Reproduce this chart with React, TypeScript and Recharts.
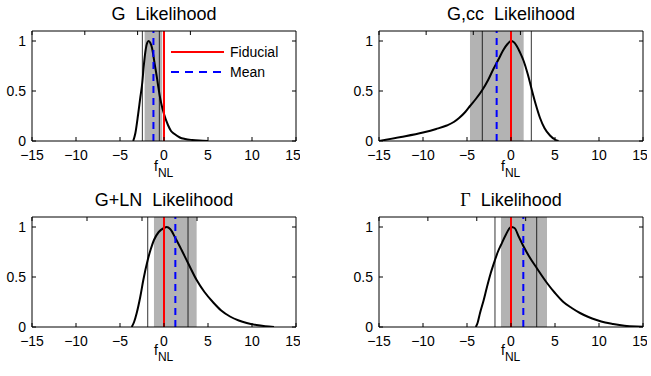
import { Line, LineChart, ReferenceArea, ReferenceLine, XAxis, YAxis } from 'recharts'

const xTicks = [-15, -10, -5, 0, 5, 10, 15]
const yTicks = [0, 0.5, 1]

// G likelihood
const gX = [-3.5, -3.25, -2.95, -2.7, -2.46, -2.3, -2.12, -1.95, -1.74, -1.55, -1.36, -1.2, -1.06, -0.85, -0.68, -0.5, -0.3, 0, 0.45, 0.8, 1.2, 1.8, 2.4, 3.2, 4.0, 5.0]
const gY = [0, 0.08, 0.26, 0.43, 0.59, 0.75, 0.89, 0.97, 1.0, 0.98, 0.93, 0.85, 0.77, 0.66, 0.56, 0.46, 0.37, 0.27, 0.16, 0.1, 0.07, 0.035, 0.02, 0.01, 0.004, 0]

// G,cc likelihood
const gccX = [-15, -12.5, -10, -8.5, -7.3, -6.5, -5.9, -5.2, -4.66, -4, -3.26, -2.6, -2, -1.4, -0.87, -0.4, 0, 0.3, 0.65, 1.0, 1.44, 1.9, 2.31, 2.8, 3.3, 3.8, 4.43, 5.0, 5.4]
const gccY = [0, 0.04, 0.085, 0.12, 0.155, 0.19, 0.23, 0.29, 0.35, 0.42, 0.51, 0.61, 0.72, 0.82, 0.91, 0.97, 1.0, 0.99, 0.95, 0.89, 0.8, 0.67, 0.53, 0.37, 0.23, 0.13, 0.055, 0.015, 0]

// G+LN likelihood
const glnX = [-3.67, -3.4, -3.1, -2.7, -2.35, -1.85, -1.5, -1.14, -0.6, 0, 0.3, 0.7, 1.29, 2.0, 2.73, 3.71, 4.6, 5.6, 6.5, 7.5, 8.5, 9.4, 10.5, 11.5, 12.5]
const glnY = [0, 0.05, 0.14, 0.3, 0.47, 0.67, 0.78, 0.87, 0.95, 0.99, 1.0, 0.98, 0.89, 0.77, 0.64, 0.47, 0.35, 0.245, 0.165, 0.105, 0.065, 0.04, 0.02, 0.008, 0]

// Gamma likelihood
const gamX = [-4.0, -3.8, -3.52, -3.1, -2.76, -2.3, -1.82, -1.5, -1.14, -0.6, 0, 0.4, 0.9, 1.4, 2.1, 2.92, 4.09, 5.0, 5.95, 6.9, 7.84, 8.8, 9.73, 10.7, 11.6, 12.9, 14.3, 15]
const gamY = [0, 0.04, 0.14, 0.27, 0.39, 0.54, 0.67, 0.75, 0.82, 0.92, 1.0, 0.99, 0.9, 0.81, 0.7, 0.59, 0.44, 0.34, 0.25, 0.19, 0.14, 0.1, 0.07, 0.045, 0.03, 0.013, 0.005, 0.003]

const bands = [[-2.2, -0.2], [-4.66, 1.44], [-1.14, 3.71], [-1.14, 4.09]]
const bounds = [[-2.46, -0.53], [-3.26, 2.31], [-1.85, 2.73], [-1.82, 2.92]]
const means = [-1.2, -1.63, 1.29, 1.4]
const fiducial = 0

const FONT = '"Liberation Sans", Arial, Helvetica, sans-serif'

const fmt = (v: number) => (v < 0 ? '\u2212' + Math.abs(v) : String(v))
const blank = () => ''

function toRows(xs: number[], ys: number[]) {
  return xs.map((x, i) => ({ x, y: ys[i] }))
}

interface PanelProps {
  title: React.ReactNode
  xs: number[]
  ys: number[]
  idx: number
  left: number
  top: number
  labelDy: number
}

function Panel({ title, xs, ys, idx, left, top, labelDy }: PanelProps) {
  const data = toRows(xs, ys)
  return (
    <div style={{ position: 'absolute', left, top, width: 300, height: 185 }}>
      <div
        style={{
          position: 'absolute',
          left: 32,
          width: 264,
          top: 4.5,
          textAlign: 'center',
          fontFamily: FONT,
          fontSize: 18,
          lineHeight: '18px',
          whiteSpace: 'pre',
        }}
      >
        {title}
      </div>
      <LineChart width={300} height={185} data={data} margin={{ top: 26, right: 0, bottom: 14, left: 0 }}>
        <XAxis
          xAxisId="b"
          dataKey="x"
          type="number"
          domain={[-15, 15]}
          ticks={xTicks}
          tickFormatter={fmt}
          height={30}
          tickSize={-4}
          tickMargin={13}
          stroke="#000"
          tick={{ fill: '#000', fontSize: 14, fontFamily: FONT }}
          allowDataOverflow
          label={(p: any) => {
            const vb = p.viewBox
            const cx = vb.x + vb.width / 2
            return (
              <text x={cx - 10} y={vb.y + labelDy} fontSize={14} fontFamily={FONT} fill="#000">
                f<tspan dy={6} fontSize={12}>NL</tspan>
              </text>
            )
          }}
        />
        <XAxis
          xAxisId="t"
          orientation="top"
          type="number"
          domain={[-15, 15]}
          ticks={xTicks}
          tickFormatter={blank}
          height={5}
          tickSize={-4}
          stroke="#000"
          allowDataOverflow
        />
        <YAxis
          yAxisId="l"
          type="number"
          domain={[0, 1.1]}
          ticks={yTicks}
          width={32}
          tickSize={-4}
          tickMargin={10}
          stroke="#000"
          tick={{ fill: '#000', fontSize: 14, fontFamily: FONT }}
          allowDataOverflow
        />
        <YAxis
          yAxisId="r"
          orientation="right"
          type="number"
          domain={[0, 1.1]}
          ticks={yTicks}
          tickFormatter={blank}
          width={4}
          tickSize={-4}
          stroke="#000"
          allowDataOverflow
        />
        <ReferenceArea
          xAxisId="b"
          yAxisId="l"
          x1={bands[idx][0]}
          x2={bands[idx][1]}
          fill="#b3b3b3"
          fillOpacity={1}
          stroke="none"
        />
        {bounds[idx].map((b) => (
          <ReferenceLine key={b} xAxisId="b" yAxisId="l" x={b} stroke="#000" strokeWidth={0.8} />
        ))}
        <Line
          xAxisId="b"
          yAxisId="l"
          dataKey="y"
          type="monotone"
          stroke="#000"
          strokeWidth={2}
          dot={false}
          isAnimationActive={false}
        />
        <ReferenceLine xAxisId="b" yAxisId="l" x={means[idx]} stroke="#0000ff" strokeWidth={2} strokeDasharray="7 5" />
        <ReferenceLine xAxisId="b" yAxisId="l" x={fiducial} stroke="#ff0000" strokeWidth={2} />
      </LineChart>
    </div>
  )
}

function LegendBox() {
  return (
    <svg style={{ position: 'absolute', left: 165, top: 40 }} width={125} height={45}>
      <line x1={6} y1={12} x2={59} y2={12} stroke="#ff0000" strokeWidth={2} />
      <text x={65} y={12} dominantBaseline="central" fontSize={14} fontFamily={FONT} fill="#000">
        Fiducial
      </text>
      <line x1={6} y1={32} x2={59} y2={32} stroke="#0000ff" strokeWidth={2} strokeDasharray="8 6" />
      <text x={65} y={32} dominantBaseline="central" fontSize={14} fontFamily={FONT} fill="#000">
        Mean
      </text>
    </svg>
  )
}

export default function App() {
  return (
    <div
      style={{
        position: 'absolute',
        left: 0,
        top: 0,
        width: 651,
        height: 376,
        overflow: 'hidden',
        background: '#fff',
      }}
    >
      <Panel title="G  Likelihood" xs={gX} ys={gY} idx={0} left={0} top={0} labelDy={30} />
      <Panel title="G,cc  Likelihood" xs={gccX} ys={gccY} idx={1} left={347} top={0} labelDy={30} />
      <Panel title="G+LN  Likelihood" xs={glnX} ys={glnY} idx={2} left={0} top={186} labelDy={28} />
      <Panel
        title={
          <>
            <span style={{ fontFamily: '"Liberation Serif", "Times New Roman", serif' }}>Γ</span>
            {'  Likelihood'}
          </>
        }
        xs={gamX}
        ys={gamY}
        idx={3}
        left={347}
        top={186}
        labelDy={28}
      />
      <LegendBox />
    </div>
  )
}
